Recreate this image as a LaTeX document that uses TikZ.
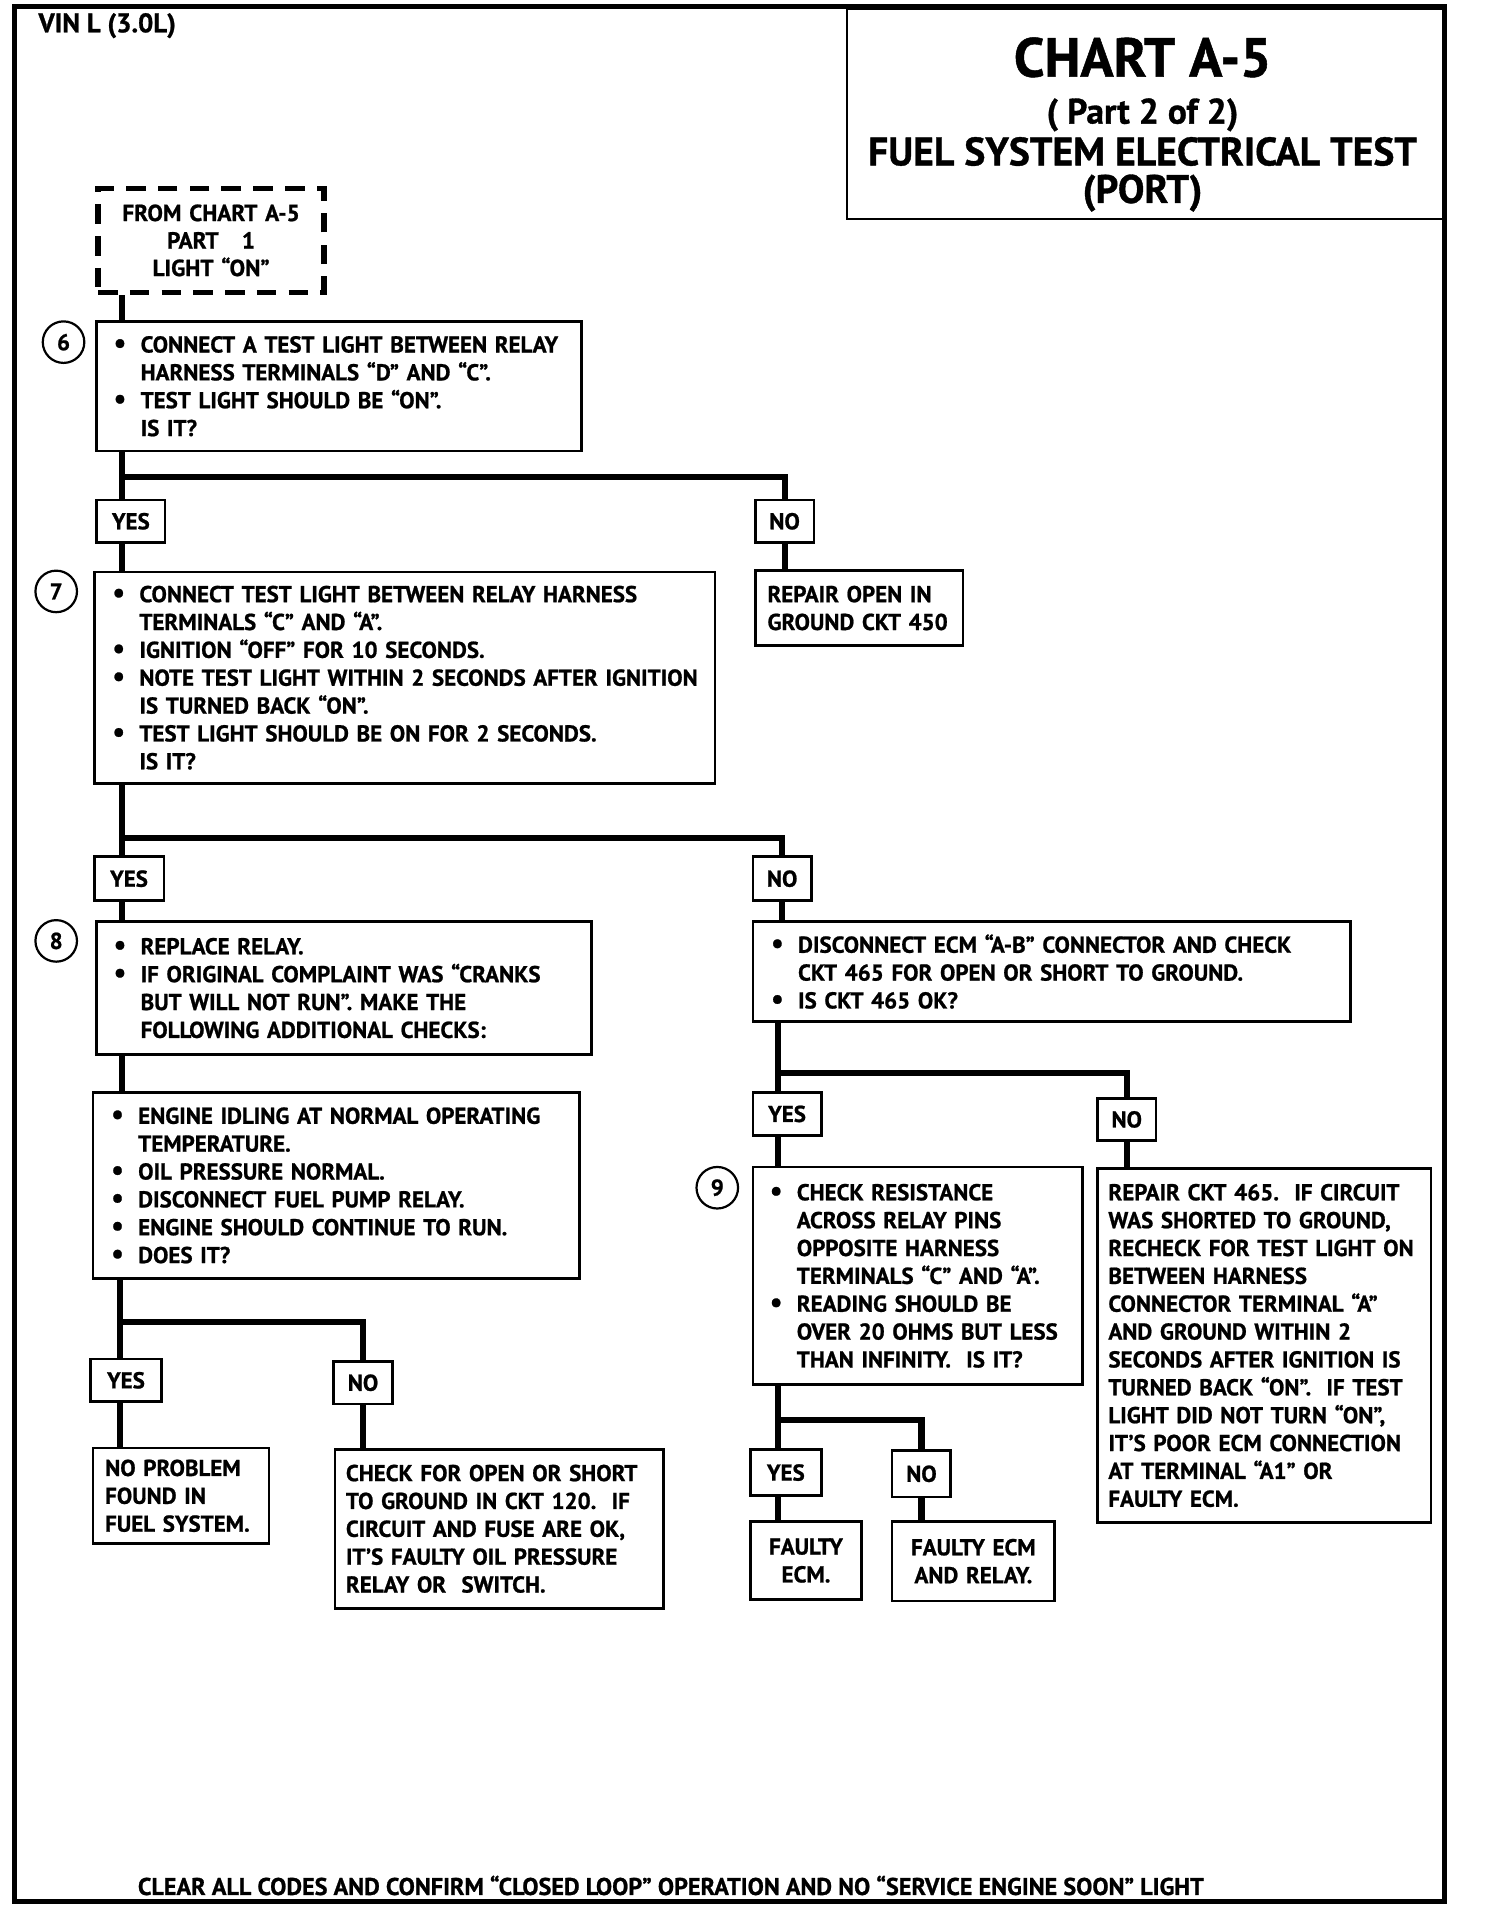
\documentclass[tikz,border=0pt]{standalone}
\usepackage{fontspec}
\usepackage{graphicx}
\setmainfont{PT Sans}[BoldFeatures={FakeBold=0.9}]
\newcommand{\bodyf}{\fontsize{18.8}{22.8}\selectfont\bfseries}
\newcommand{\dotb}{\scalebox{1.2}[1.25]{•}}
\newcommand{\bl}[1]{\mbox{\makebox[22pt][l]{\dotb}#1}}
\newcommand{\il}[1]{\mbox{\hspace*{22pt}#1}}
\newcommand{\pl}[1]{\mbox{#1}}
\begin{document}
\begin{tikzpicture}[x=1pt,y=-1pt,
  box/.style={draw, line width=2.2pt, anchor=north west, inner ysep=0pt, align=left, font=\bodyf},
  cbox/.style={draw, line width=2.2pt, anchor=north west, inner sep=0pt, align=center, font=\bodyf},
  yn/.style={draw, line width=2.2pt, anchor=north west, inner sep=0pt, font=\bodyf},
  circ/.style={draw, circle, line width=1.8pt, minimum size=34pt, inner sep=0pt, font=\bodyf},
  conn/.style={line width=5pt, line join=miter},
  dbox/.style={draw, line width=4.5pt, dash pattern=on 16pt off 10pt, anchor=north west, inner sep=0pt, align=center, font=\bodyf}]
\useasboundingbox (0,0) rectangle (1231,1568);
% outer frame
\draw[line width=4pt] (12,5) rectangle (1182,1556);
% title box
\node[draw, line width=2.2pt, anchor=north west, minimum width=490pt, minimum height=172pt] (tbox) at (692,6) {};
\node[font=\fontsize{45}{45}\selectfont\bfseries] (t1) at (935,47) {CHART A-5};
\node[font=\fontsize{29}{29}\selectfont\bfseries] (t2) at (935,94) {( Part 2 of 2)};
\node[font=\fontsize{32.5}{32.5}\selectfont\bfseries] (t3) at (935,124) {FUEL SYSTEM ELECTRICAL TEST};
\node[font=\fontsize{32.5}{32.5}\selectfont\bfseries] (t4) at (935,158) {(PORT)};
\node[anchor=west, font=\fontsize{22}{22}\selectfont\bfseries] (vin) at (28,21) {VIN L (3.0L)};
% trunk x coordinates
\coordinate (tr1) at (100,0);
\coordinate (tr2) at (98,0);
\coordinate (tr3) at (637,0);
% nodes
\node[dbox, minimum width=185pt, minimum height=85pt, text width=185pt, font=\fontsize{19}{22.5}\selectfont\bfseries] (dash) at (78,152) {FROM CHART A-5\\PART\ \ \ 1\\LIGHT “ON”};
\node[box, minimum width=397pt, minimum height=106pt, inner xsep=14pt, text width=369pt] (b6) at (78,262)
 {\bl{CONNECT A TEST LIGHT BETWEEN RELAY}\\\il{HARNESS TERMINALS “D” AND “C”.}\\\bl{TEST LIGHT SHOULD BE “ON”.}\\\il{IS IT?}};
\node[circ] (c6) at (52,280) {6};
\node[yn, minimum width=56pt, minimum height=35pt] (y1) at (78,408) {YES};
\node[yn, minimum width=48pt, minimum height=35pt] (n1) at (617,408) {NO};
\node[box, minimum width=170pt, minimum height=61pt, inner xsep=10pt, text width=150pt] (r450) at (617,466)
 {\pl{REPAIR OPEN IN}\\\pl{GROUND CKT 450}};
\node[box, minimum width=508pt, minimum height=173pt, inner xsep=15pt, text width=478pt] (b7) at (76,467)
 {\bl{CONNECT TEST LIGHT BETWEEN RELAY HARNESS}\\\il{TERMINALS “C” AND “A”.}\\\bl{IGNITION “OFF” FOR 10 SECONDS.}\\\bl{NOTE TEST LIGHT WITHIN 2 SECONDS AFTER IGNITION}\\\il{IS TURNED BACK “ON”.}\\\bl{TEST LIGHT SHOULD BE ON FOR 2 SECONDS.}\\\il{IS IT?}};
\node[circ] (c7) at (46,484) {7};
\node[yn, minimum width=57pt, minimum height=36pt] (y2) at (76,700) {YES};
\node[yn, minimum width=48pt, minimum height=36pt] (n2) at (615,700) {NO};
\node[box, minimum width=405pt, minimum height=109pt, inner xsep=14pt, text width=377pt] (b8) at (78,753)
 {\bl{REPLACE RELAY.}\\\bl{IF ORIGINAL COMPLAINT WAS “CRANKS}\\\il{BUT WILL NOT RUN”. MAKE THE}\\\il{FOLLOWING ADDITIONAL CHECKS:}};
\node[circ] (c8) at (46,770) {8};
\node[box, minimum width=489pt, minimum height=82pt, inner xsep=15pt, text width=459pt] (b465) at (615,753)
 {\bl{DISCONNECT ECM “A-B” CONNECTOR AND CHECK}\\\il{CKT 465 FOR OPEN OR SHORT TO GROUND.}\\\bl{IS CKT 465 OK?}};
\node[box, minimum width=398pt, minimum height=152pt, inner xsep=15pt, text width=368pt] (eng) at (75,893)
 {\bl{ENGINE IDLING AT NORMAL OPERATING}\\\il{TEMPERATURE.}\\\bl{OIL PRESSURE NORMAL.}\\\bl{DISCONNECT FUEL PUMP RELAY.}\\\bl{ENGINE SHOULD CONTINUE TO RUN.}\\\bl{DOES IT?}};
\node[yn, minimum width=58pt, minimum height=35pt] (y3) at (73,1111) {YES};
\node[yn, minimum width=48pt, minimum height=35pt] (n3) at (272,1113) {NO};
\node[box, minimum width=144pt, minimum height=78pt, inner xsep=10pt, text width=124pt] (nop) at (75,1184)
 {\pl{NO PROBLEM}\\\pl{FOUND IN}\\\pl{FUEL SYSTEM.}};
\node[box, minimum width=269pt, minimum height=130pt, inner xsep=9pt, text width=251pt] (chk) at (273,1185)
 {\pl{CHECK FOR OPEN OR SHORT}\\\pl{TO GROUND IN CKT 120.\ \ IF}\\\pl{CIRCUIT AND FUSE ARE OK,}\\\pl{IT’S FAULTY OIL PRESSURE}\\\pl{RELAY OR\ \ SWITCH.}};
\node[yn, minimum width=56pt, minimum height=35pt] (y4) at (615,893) {YES};
\node[yn, minimum width=48pt, minimum height=34pt] (n4) at (897,898) {NO};
\node[box, minimum width=270pt, minimum height=178pt, inner xsep=14pt, text width=242pt] (b9) at (615,954)
 {\bl{CHECK RESISTANCE}\\\il{ACROSS RELAY PINS}\\\il{OPPOSITE HARNESS}\\\il{TERMINALS “C” AND “A”.}\\\bl{READING SHOULD BE}\\\il{OVER 20 OHMS BUT LESS}\\\il{THAN INFINITY.\ \ IS IT?}};
\node[circ] (c9) at (587,972) {9};
\node[box, minimum width=273pt, minimum height=290pt, inner xsep=9pt, text width=255pt] (rep) at (897,955)
 {\pl{REPAIR CKT 465.\ \ IF CIRCUIT}\\\pl{WAS SHORTED TO GROUND,}\\\pl{RECHECK FOR TEST LIGHT ON}\\\pl{BETWEEN HARNESS}\\\pl{CONNECTOR TERMINAL “A”}\\\pl{AND GROUND WITHIN 2}\\\pl{SECONDS AFTER IGNITION IS}\\\pl{TURNED BACK “ON”.\ \ IF TEST}\\\pl{LIGHT DID NOT TURN “ON”,}\\\pl{IT’S POOR ECM CONNECTION}\\\pl{AT TERMINAL “A1” OR}\\\pl{FAULTY ECM.}};
\node[yn, minimum width=58pt, minimum height=38pt] (y5) at (613,1185) {YES};
\node[yn, minimum width=48pt, minimum height=38pt] (n5) at (729,1186) {NO};
\node[cbox, minimum width=91pt, minimum height=64pt, text width=91pt] (fe) at (613,1244) {FAULTY\\ECM.};
\node[cbox, minimum width=133pt, minimum height=65pt, text width=133pt] (fer) at (729,1244) {FAULTY ECM\\AND RELAY.};
\node[font=\fontsize{19.8}{20}\selectfont\bfseries] (foot) at (549,1543) {CLEAR ALL CODES AND CONFIRM “CLOSED LOOP” OPERATION AND NO “SERVICE ENGINE SOON” LIGHT};
% connectors
\coordinate (h1) at (0,390);
\coordinate (h2) at (0,686);
\coordinate (h3) at (0,878);
\coordinate (h4) at (0,1082);
\coordinate (h5) at (0,1162);
\draw[conn] (dash.south -| tr1) -- (b6.north -| tr1);
\draw[conn] (b6.south -| tr1) -- (y1.north -| tr1);
\draw[conn] (h1 -| tr1) -| (n1.north);
\draw[conn] (y1.south -| tr1) -- (b7.north -| tr1);
\draw[conn] (n1.south) -- (r450.north -| n1.south);
\draw[conn] (b7.south -| tr1) -- (y2.north -| tr1);
\draw[conn] (h2 -| tr1) -| (n2.north);
\draw[conn] (y2.south -| tr1) -- (b8.north -| tr1);
\draw[conn] (n2.south) -- (b465.north -| n2.south);
\draw[conn] (b8.south -| tr1) -- (eng.north -| tr1);
\draw[conn] (eng.south -| tr2) -- (y3.north -| tr2);
\draw[conn] (h4 -| tr2) -| (n3.north);
\draw[conn] (y3.south -| tr2) -- (nop.north -| tr2);
\draw[conn] (n3.south) -- (chk.north -| n3.south);
\draw[conn] (b465.south -| tr3) -- (y4.north -| tr3);
\draw[conn] (h3 -| tr3) -| (n4.north);
\draw[conn] (y4.south -| tr3) -- (b9.north -| tr3);
\draw[conn] (n4.south) -- (rep.north -| n4.south);
\draw[conn] (b9.south -| tr3) -- (y5.north -| tr3);
\draw[conn] (h5 -| tr3) -| (n5.north);
\draw[conn] (y5.south -| tr3) -- (fe.north -| tr3);
\draw[conn] (n5.south) -- (fer.north -| n5.south);
\end{tikzpicture}
\end{document}
